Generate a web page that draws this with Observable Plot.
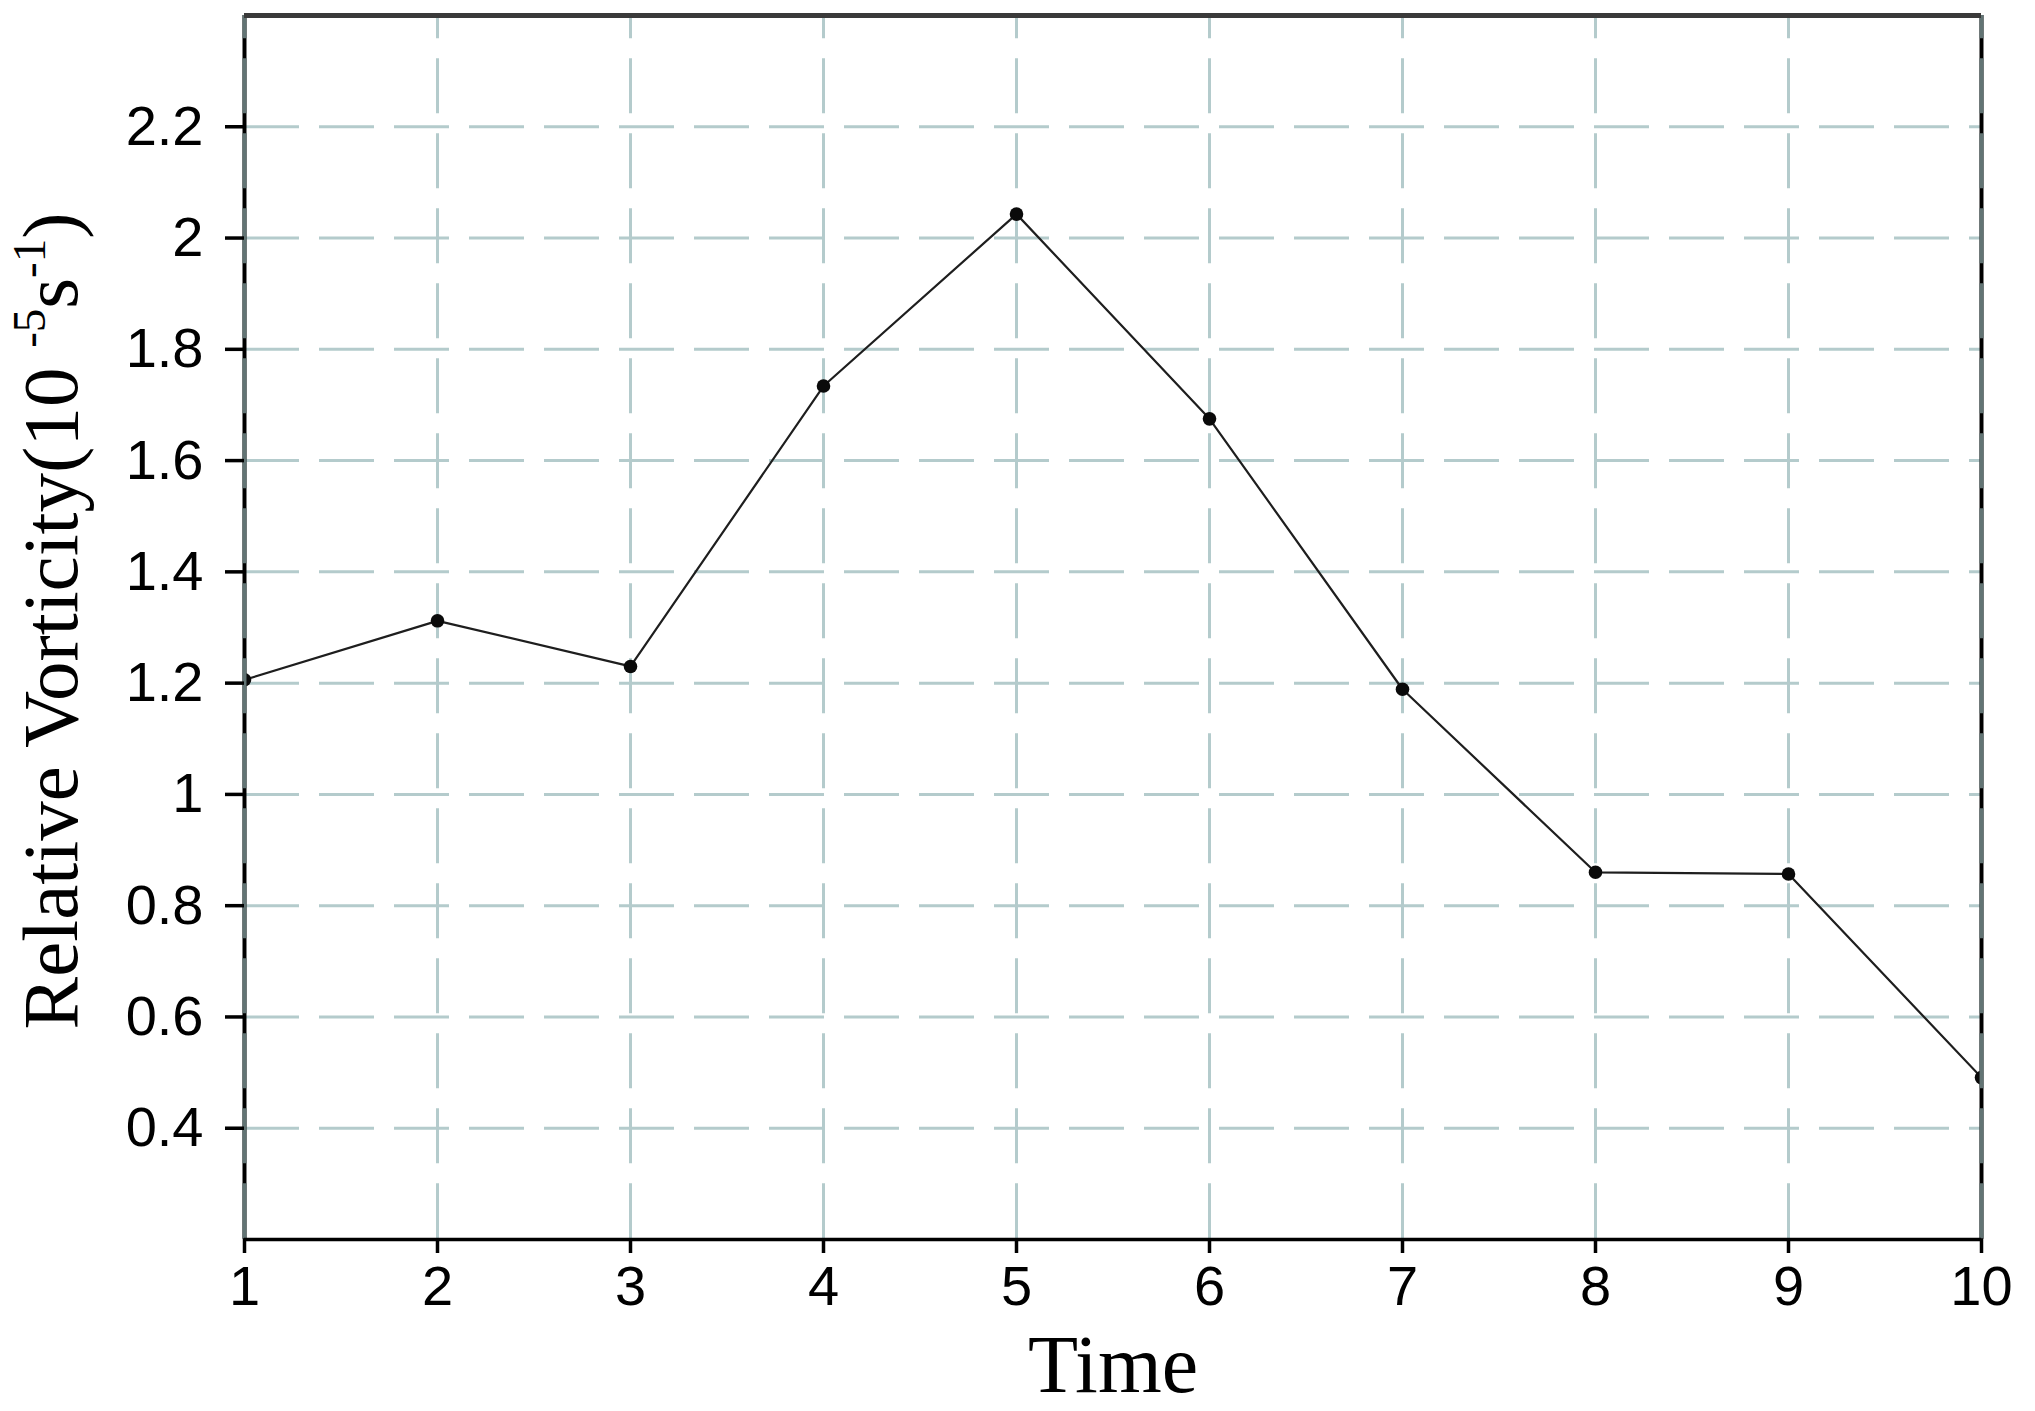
<!DOCTYPE html>
<html><head><meta charset="utf-8">
<script src="https://cdn.jsdelivr.net/npm/d3@7"></script>
<script src="https://cdn.jsdelivr.net/npm/@observablehq/plot@0.6"></script>
<style>html,body{margin:0;padding:0;background:#fff;overflow:hidden}</style>
</head><body><div id="chart"></div>
<script>
// ---- data ----
const times = [1, 2, 3, 4, 5, 6, 7, 8, 9, 10];
const vorticity = [1.206, 1.312, 1.230, 1.734, 2.043, 1.675, 1.189, 0.860, 0.857, 0.491];
const xTicks = [1, 2, 3, 4, 5, 6, 7, 8, 9, 10];
const yTicks = [0.4, 0.6, 0.8, 1, 1.2, 1.4, 1.6, 1.8, 2, 2.2];
const yDomain = [0.2, 2.4];
const xTitle = "Time";
const yTitleMain = "Relative Vorticity(10 ";
const yTitleSup1 = "-5";
const yTitleUnit = "s";
const yTitleSup2 = "-1";
const yTitleEnd = ")";

const data = times.map((t, i) => ({time: t, value: vorticity[i]}));

const W = 2035, H = 1411;
const gridColor = "#b4cbcc";
const dash = "55,20";

const plot = Plot.plot({
  width: W, height: H,
  marginLeft: 244, marginRight: 54, marginTop: 15, marginBottom: 172,
  x: {domain: [xTicks[0], xTicks[xTicks.length - 1]]},
  y: {domain: yDomain},
  style: {background: "#fff", fontFamily: "'Liberation Sans', Arial, sans-serif", color: "#000"},
  marks: [
    Plot.ruleY(yTicks, {stroke: gridColor, strokeWidth: 3, strokeDasharray: dash}),
    Plot.ruleX(xTicks.slice(1, -1), {stroke: gridColor, strokeWidth: 3, strokeDasharray: dash, strokeDashoffset: 31.7}),
    Plot.line(data, {x: "time", y: "value", stroke: "#1e1e1e", strokeWidth: 2.2, clip: true}),
    Plot.dot(data, {x: "time", y: "value", r: 6.8, fill: "#0a0a0a", stroke: "none", clip: true}),
    // frame
    Plot.ruleX([xTicks[0], xTicks[xTicks.length - 1]], {stroke: "#000", strokeWidth: 4}),
    Plot.ruleX([xTicks[0], xTicks[xTicks.length - 1]], {stroke: "#627474", strokeWidth: 4, strokeDasharray: dash, strokeDashoffset: 31.7}),
    Plot.ruleY([yDomain[1]], {stroke: "#3a3a3a", strokeWidth: 5}),
    Plot.ruleY([yDomain[0]], {stroke: "#000", strokeWidth: 3.5}),
    Plot.axisX(xTicks, {tickSize: 14, tickPadding: 12, fontSize: 56, strokeWidth: 3.5, tickFormat: d => String(d), label: null, stroke: "#000"}),
    Plot.axisY(yTicks, {tickSize: 19, tickPadding: 22, fontSize: 56, strokeWidth: 3.5, tickFormat: d => String(d), label: null, stroke: "#000"})
  ]
});

document.getElementById("chart").appendChild(plot);

const svg = d3.select(plot);
svg.append("text")
  .attr("x", 1113).attr("y", 1392)
  .attr("text-anchor", "middle")
  .attr("font-family", "'Liberation Serif', 'DejaVu Serif', serif")
  .attr("font-size", 82)
  .attr("fill", "#000")
  .text(xTitle);

const yt = svg.append("text")
  .attr("transform", "translate(77,621) rotate(-90)")
  .attr("text-anchor", "middle")
  .attr("font-family", "'Liberation Serif', 'DejaVu Serif', serif")
  .attr("font-size", 79)
  .attr("fill", "#000");
yt.append("tspan").text(yTitleMain);
yt.append("tspan").attr("font-size", 47).attr("dy", -32).text(yTitleSup1);
yt.append("tspan").attr("dy", 32).text(yTitleUnit);
yt.append("tspan").attr("font-size", 47).attr("dy", -32).text(yTitleSup2);
yt.append("tspan").attr("dy", 32).text(yTitleEnd);
</script>
</body></html>
